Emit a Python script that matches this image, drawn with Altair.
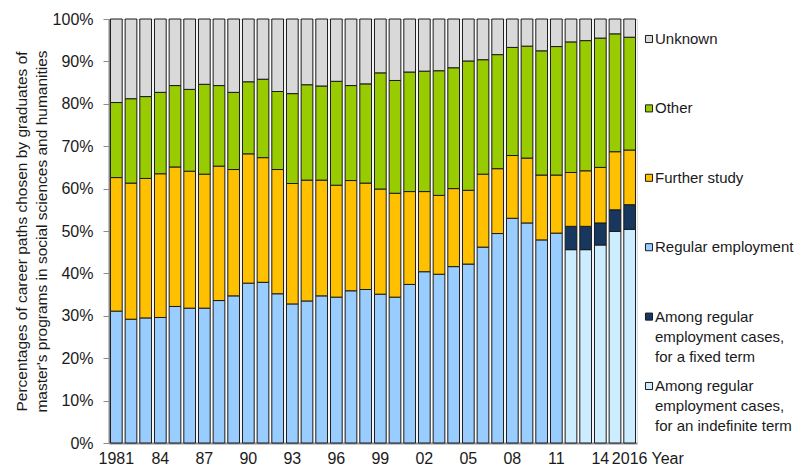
import altair as alt
import pandas as pd

years = [1981, 1982, 1983, 1984, 1985, 1986, 1987, 1988, 1989, 1990,
         1991, 1992, 1993, 1994, 1995, 1996, 1997, 1998, 1999, 2000,
         2001, 2002, 2003, 2004, 2005, 2006, 2007, 2008, 2009, 2010,
         2011, 2012, 2013, 2014, 2015, 2016]

regular_employment = [31.1, 29.2, 29.5, 29.6, 32.2, 31.8, 31.8, 33.6, 34.7, 37.7,
                      37.9, 35.2, 32.8, 33.5, 34.7, 34.4, 35.9, 36.2, 35.1, 34.4,
                      37.4, 40.4, 39.8, 41.6, 42.2, 46.2, 49.4, 53.0, 51.9, 47.9,
                      49.5, None, None, None, None, None]
indefinite_term = [None, None, None, None, None, None, None, None, None, None,
                   None, None, None, None, None, None, None, None, None, None,
                   None, None, None, None, None, None, None, None, None, None,
                   None, 45.6, 45.6, 46.7, 49.9, 50.4]
fixed_term = [None, None, None, None, None, None, None, None, None, None,
              None, None, None, None, None, None, None, None, None, None,
              None, None, None, None, None, None, None, None, None, None,
              None, 5.5, 5.5, 5.2, 5.1, 5.8]
further_study = [31.5, 32.1, 32.9, 33.9, 32.9, 32.3, 31.6, 31.7, 29.8, 30.5,
                 29.4, 29.3, 28.4, 28.5, 27.3, 26.4, 26.0, 25.1, 24.8, 24.5,
                 21.9, 18.9, 18.6, 18.4, 17.4, 17.2, 15.3, 14.8, 15.3, 15.3,
                 13.7, 12.7, 13.1, 13.1, 13.7, 12.9]
other = [17.7, 19.9, 19.3, 19.2, 19.2, 19.3, 21.2, 19.0, 18.2, 17.0,
         18.5, 18.4, 21.2, 22.5, 22.2, 24.5, 22.4, 23.4, 27.4, 26.6,
         28.2, 28.4, 29.4, 28.5, 30.5, 27.0, 26.9, 25.5, 26.4, 29.3,
         30.3, 30.8, 30.7, 30.5, 27.8, 26.6]
unknown = [19.7, 18.8, 18.3, 17.3, 15.7, 16.6, 15.4, 15.7, 17.3, 14.8,
           14.2, 17.1, 17.6, 15.5, 15.8, 14.7, 15.7, 15.3, 12.7, 14.5,
           12.5, 12.3, 12.2, 11.5, 9.9, 9.6, 8.4, 6.7, 6.4, 7.5,
           6.5, 5.4, 5.1, 4.5, 3.5, 4.3]

# legend order (top to bottom)
categories = ["Unknown", "Other", "Further study", "Regular employment",
              "Fixed term", "Indefinite term"]
legend_labels = ["Unknown", "Other", "Further study", "Regular employment",
                 "Among regular\nemployment cases,\nfor a fixed term",
                 "Among regular\nemployment cases,\nfor an indefinite term"]
colors = ["#D9D9D9", "#99CC00", "#FFC000", "#99CCFF", "#17375E", "#CCECFF"]
# stacking order from the baseline upward
stack_rank = {"Indefinite term": 0, "Fixed term": 1, "Regular employment": 2,
              "Further study": 3, "Other": 4, "Unknown": 5}

series = {
    "Regular employment": regular_employment,
    "Indefinite term": indefinite_term,
    "Fixed term": fixed_term,
    "Further study": further_study,
    "Other": other,
    "Unknown": unknown,
}

rows = []
for name, vals in series.items():
    for yr, v in zip(years, vals):
        if v is not None:
            rows.append({"year": yr, "category": name, "value": v,
                         "rank": stack_rank[name]})
df = pd.DataFrame(rows)

legend_df = pd.DataFrame({"category": categories, "label": legend_labels})

FONT = "Liberation Sans"
TXT = "#1a1a1a"
AX = "#8c8c8c"

color_scale = alt.Scale(domain=categories, range=colors)

bars = alt.Chart(df).mark_bar(stroke="#1a1a1a", strokeWidth=1).encode(
    x=alt.X("year:O",
            scale=alt.Scale(paddingInner=0.2, paddingOuter=0.1),
            axis=alt.Axis(
                title="Year", titleX=542, titleY=20, titleAlign="left",
                titleBaseline="alphabetic", titleFontWeight="normal",
                titleFontSize=16, titleColor=TXT, titleFont=FONT,
                labelExpr="datum.value == 1981 || datum.value == 2016 ? '' + datum.value : ((datum.value - 1981) % 3 == 0 ? substring('' + datum.value, 2, 4) : '')",
                labelAngle=0, labelFontSize=16, labelColor=TXT, labelFont=FONT,
                labelPadding=7, labelOverlap=False, ticks=False,
                domainColor=AX, domainWidth=2)),
    y=alt.Y("value:Q", stack="zero",
            scale=alt.Scale(domain=[0, 100], nice=False),
            axis=alt.Axis(
                title=["Percentages of career paths chosen by graduates of",
                       "master's programs in  social sciences and humanities"],
                titleFontWeight="normal", titleFontSize=15.5, titleColor=TXT,
                titleFont=FONT, titleLineHeight=20, titlePadding=3,
                values=[0, 10, 20, 30, 40, 50, 60, 70, 80, 90, 100],
                labelExpr="datum.value + '%'", labelFontSize=16,
                labelColor=TXT, labelFont=FONT, labelPadding=10,
                tickSize=6, tickColor=AX, domainColor=AX, domainWidth=2,
                grid=False)),
    color=alt.Color("category:N", scale=color_scale, legend=None),
    order=alt.Order("rank:Q", sort="ascending"),
)

legend_y = alt.Y("category:N",
                 scale=alt.Scale(type="point", domain=categories,
                                 range=[20, 367], padding=0),
                 axis=None)

legend_sq = alt.Chart(legend_df).mark_square(
    size=50, stroke="#1a1a1a", strokeWidth=1, opacity=1
).encode(
    x=alt.value(540),
    y=legend_y,
    color=alt.Color("category:N", scale=color_scale, legend=None),
)

legend_txt = alt.Chart(legend_df).mark_text(
    align="left", baseline="alphabetic", dy=5, fontSize=15, font=FONT,
    color=TXT, lineBreak="\n", lineHeight=20
).encode(
    x=alt.value(546),
    y=legend_y,
    text="label:N",
)

chart = alt.layer(bars, legend_sq, legend_txt).resolve_scale(
    y="independent"
).properties(
    width=528, height=424,
    padding={"left": 6, "top": 3, "right": 0, "bottom": 0},
).configure_view(stroke=None).configure(font=FONT)

chart.save("out.html", embed_options={"renderer": "svg", "actions": False})
